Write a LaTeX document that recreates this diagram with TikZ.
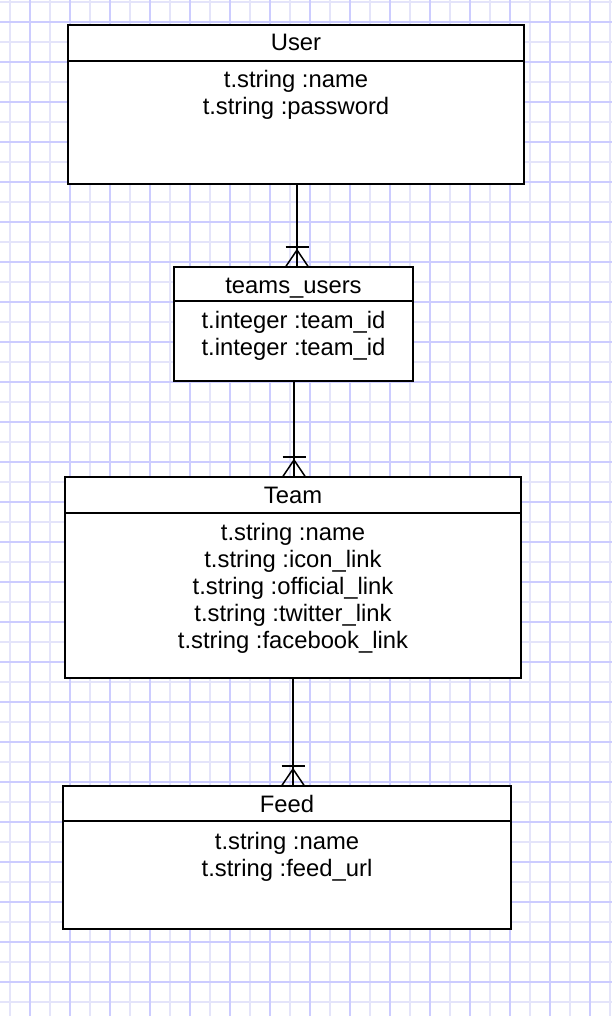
\documentclass[tikz,border=0pt]{standalone}
\usepackage{fontspec}
\setmainfont{Liberation Sans}
\definecolor{gd}{RGB}{204,204,255}
\definecolor{gl}{RGB}{228,228,250}
\begin{document}
\begin{tikzpicture}[x=1pt,y=-1pt,
  entity/.style={draw=black,line width=1.8pt,fill=white,inner sep=0pt},
  lbl/.style={anchor=base,inner sep=0pt,font=\fontsize{23.8}{27}\selectfont},
  conn/.style={draw=black,line width=1.8pt},
  gridlight/.style={draw=gl,line width=1.3pt},
  griddark/.style={draw=gd,line width=1.3pt}]
\useasboundingbox (0,0) rectangle (612,1016);
\fill[white] (0,0) rectangle (612,1016);
% grid
\foreach \x in {10,50,...,610} \draw[gridlight] (\x,0) -- (\x,1016);
\foreach \y in {2,42,...,1002} \draw[gridlight] (0,\y) -- (612,\y);
\foreach \x in {30,70,...,590} \draw[griddark] (\x,0) -- (\x,1016);
\foreach \y in {22,62,...,982} \draw[griddark] (0,\y) -- (612,\y);

% entities
\node[entity,minimum width=456pt,minimum height=159pt] (user) at (296,104.5) {};
\draw[conn] ([yshift=-37pt]user.north west) -- ([yshift=-37pt]user.north east);
\node[lbl] (userT) at (296,51) {User};
\node[lbl] (userA1) at (296,88) {t.string :name};
\node[lbl] (userA2) at (296,115) {t.string :password};

\node[entity,minimum width=239pt,minimum height=114pt] (tu) at (293.5,324) {};
\draw[conn] ([yshift=-35pt]tu.north west) -- ([yshift=-35pt]tu.north east);
\node[lbl] (tuT) at (293.5,293) {teams\_users};
\node[lbl] (tuA1) at (293.5,328) {t.integer :team\_id};
\node[lbl] (tuA2) at (293.5,355) {t.integer :team\_id};

\node[entity,minimum width=456pt,minimum height=201pt] (team) at (293,577.5) {};
\draw[conn] ([yshift=-37pt]team.north west) -- ([yshift=-37pt]team.north east);
\node[lbl] (teamT) at (293,503) {Team};
\node[lbl] (teamA1) at (293,540) {t.string :name};
\node[lbl] (teamA2) at (293,567) {t.string :icon\_link};
\node[lbl] (teamA3) at (293,594) {t.string :official\_link};
\node[lbl] (teamA4) at (293,621) {t.string :twitter\_link};
\node[lbl] (teamA5) at (293,648) {t.string :facebook\_link};

\node[entity,minimum width=448pt,minimum height=143pt] (feed) at (287,857.5) {};
\draw[conn] ([yshift=-36pt]feed.north west) -- ([yshift=-36pt]feed.north east);
\node[lbl] (feedT) at (287,812) {Feed};
\node[lbl] (feedA1) at (287,849) {t.string :name};
\node[lbl] (feedA2) at (287,876) {t.string :feed\_url};

% connectors with crow's feet
\coordinate (f1) at (297,267);
\coordinate (f2) at (294,477);
\coordinate (f3) at (293,786);
\draw[conn] (user.south -| f1) -- (f1);
\draw[conn] (tu.south -| f2) -- (f2);
\draw[conn] (team.south -| f3) -- (f3);
\foreach \f in {f1,f2,f3}{
  \draw[conn,line width=1.5pt] ([xshift=-11.5pt]\f) -- ([yshift=17pt]\f) -- ([xshift=11.5pt]\f);
  \draw[conn,line width=1.5pt] ([xshift=-11.5pt,yshift=20pt]\f) -- ([xshift=11.5pt,yshift=20pt]\f);
}
\end{tikzpicture}
\end{document}
